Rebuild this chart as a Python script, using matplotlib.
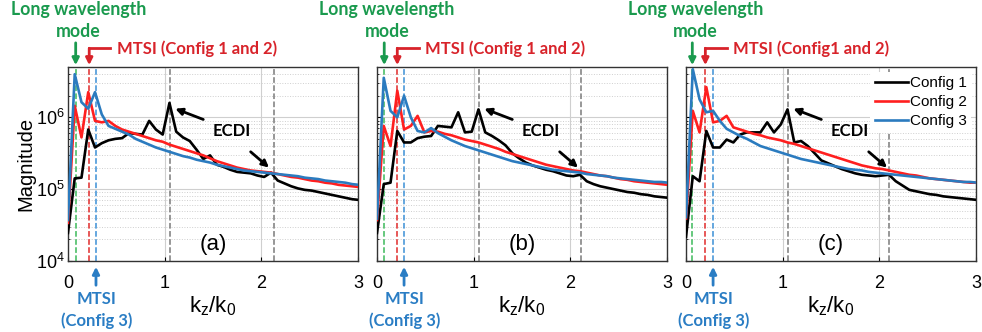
import matplotlib
matplotlib.use('Agg')
import matplotlib.pyplot as plt
import numpy as np

plt.rcParams['font.family'] = ['Liberation Sans', 'DejaVu Sans']
plt.rcParams['mathtext.fontset'] = 'custom'
plt.rcParams['mathtext.rm'] = 'Liberation Sans'
plt.rcParams['mathtext.it'] = 'Liberation Sans'

# wavenumber grid k_z/k_0
k = np.arange(44) * 0.07

# log10 of the magnitude
a_cfg1 = [4.39, 5.15, 5.16, 5.83, 5.58, 5.64, 5.68, 5.70, 5.71, 5.78, 5.77, 5.76, 5.95, 5.83, 5.76,
          6.20, 5.80, 5.72, 5.67, 5.55, 5.42, 5.47, 5.34, 5.31, 5.27, 5.24, 5.23, 5.22, 5.19, 5.17,
          5.23, 5.12, 5.08, 5.04, 5.01, 4.99, 4.98, 4.96, 4.94, 4.92, 4.90, 4.88, 4.86, 4.85]
a_cfg2 = [4.53, 6.16, 5.72, 6.35, 5.95, 5.93, 5.95, 5.88, 5.83, 5.80, 5.77, 5.74, 5.71, 5.68, 5.66,
          5.62, 5.59, 5.56, 5.53, 5.50, 5.47, 5.43, 5.39, 5.36, 5.33, 5.30, 5.28, 5.26, 5.25, 5.24,
          5.23, 5.21, 5.19, 5.17, 5.16, 5.14, 5.12, 5.11, 5.09, 5.08, 5.06, 5.05, 5.04, 5.03]
a_cfg3 = [4.57, 6.60, 6.21, 6.12, 6.35, 6.04, 5.88, 5.84, 5.80, 5.76, 5.70, 5.66, 5.62, 5.58, 5.55,
          5.52, 5.49, 5.46, 5.44, 5.41, 5.39, 5.37, 5.34, 5.32, 5.30, 5.28, 5.26, 5.25, 5.24, 5.23,
          5.22, 5.21, 5.20, 5.19, 5.18, 5.16, 5.15, 5.14, 5.12, 5.11, 5.10, 5.09, 5.07, 5.06]

b_cfg1 = [4.39, 5.07, 5.09, 5.81, 5.65, 5.65, 5.71, 5.73, 5.74, 5.88, 5.87, 5.86, 6.07, 5.79, 5.80,
          6.11, 5.79, 5.74, 5.68, 5.61, 5.50, 5.43, 5.37, 5.33, 5.30, 5.27, 5.25, 5.22, 5.19, 5.18,
          5.20, 5.11, 5.07, 5.04, 5.02, 5.00, 4.98, 4.96, 4.95, 4.93, 4.92, 4.90, 4.89, 4.88]
b_cfg2 = [4.57, 5.88, 5.60, 6.37, 5.83, 5.88, 6.02, 5.79, 5.81, 5.80, 5.77, 5.75, 5.72, 5.69, 5.67,
          5.65, 5.62, 5.59, 5.56, 5.52, 5.49, 5.46, 5.43, 5.40, 5.37, 5.34, 5.32, 5.30, 5.28, 5.26,
          5.25, 5.23, 5.21, 5.19, 5.18, 5.16, 5.14, 5.13, 5.11, 5.10, 5.09, 5.08, 5.07, 5.06]
b_cfg3 = [4.59, 6.55, 6.09, 6.00, 6.30, 6.00, 5.81, 5.79, 5.85, 5.78, 5.73, 5.68, 5.64, 5.60, 5.57,
          5.54, 5.51, 5.48, 5.45, 5.42, 5.39, 5.37, 5.35, 5.33, 5.31, 5.29, 5.27, 5.26, 5.25, 5.24,
          5.23, 5.21, 5.20, 5.19, 5.18, 5.16, 5.15, 5.14, 5.13, 5.12, 5.11, 5.10, 5.10, 5.09]

c_cfg1 = [4.34, 5.18, 5.11, 5.81, 5.58, 5.58, 5.69, 5.65, 5.76, 5.79, 5.79, 5.79, 5.93, 5.79, 5.90,
          6.11, 5.65, 5.67, 5.60, 5.50, 5.40, 5.36, 5.32, 5.28, 5.25, 5.22, 5.20, 5.19, 5.18, 5.19,
          5.20, 5.11, 5.05, 4.99, 4.97, 4.95, 4.93, 4.92, 4.90, 4.89, 4.88, 4.87, 4.86, 4.85]
c_cfg2 = [4.59, 6.09, 5.79, 6.42, 5.93, 5.95, 6.02, 5.86, 5.83, 5.80, 5.77, 5.75, 5.72, 5.70, 5.68,
          5.65, 5.63, 5.60, 5.57, 5.54, 5.51, 5.48, 5.45, 5.42, 5.39, 5.36, 5.33, 5.31, 5.29, 5.28,
          5.26, 5.24, 5.22, 5.20, 5.19, 5.17, 5.15, 5.14, 5.13, 5.12, 5.11, 5.10, 5.09, 5.09]
c_cfg3 = [4.61, 6.67, 6.25, 6.07, 6.09, 5.95, 5.84, 5.79, 5.74, 5.70, 5.65, 5.60, 5.57, 5.54, 5.51,
          5.48, 5.45, 5.42, 5.40, 5.38, 5.36, 5.34, 5.32, 5.30, 5.28, 5.27, 5.26, 5.24, 5.23, 5.22,
          5.21, 5.20, 5.19, 5.18, 5.17, 5.16, 5.15, 5.14, 5.13, 5.12, 5.11, 5.10, 5.10, 5.09]

# marker lines (k_z/k_0) per panel: long wavelength, MTSI 1&2, MTSI 3, ECDI
green_k = [0.08, 0.075, 0.065]
red_k = [0.22, 0.21, 0.20]
blue_k = [0.29, 0.28, 0.28]
ecdi_k = [[1.055, 2.13], [1.055, 2.11], [1.05, 2.10]]
red_labels = ['MTSI (Config 1 and 2)', 'MTSI (Config 1 and 2)', 'MTSI (Config1 and 2)']
letters = ['(a)', '(b)', '(c)']
series = [(a_cfg1, a_cfg2, a_cfg3), (b_cfg1, b_cfg2, b_cfg3), (c_cfg1, c_cfg2, c_cfg3)]
names = ['Config 1', 'Config 2', 'Config 3']
colors = ['black', '#ff1f1f', '#2b7bbf']

GREEN = '#1a9a4e'
RED = '#d8232a'
BLUE = '#2a7dc4'
BOLD = dict(family=['Lato', 'DejaVu Sans'], fontweight='bold', fontsize=12)

fig = plt.figure(figsize=(9.82, 3.32), dpi=100)
lefts = [0.0692, 0.3839, 0.6986]

for p in range(3):
    ax = fig.add_axes([lefts[p], 0.2139, 0.2953, 0.584])
    for vals, name, col in zip(series[p], names, colors):
        ax.plot(k, 10 ** np.array(vals), color=col, lw=1.9, label=name, zorder=3)

    ax.set_yscale('log')
    ax.set_xlim(0, 3)
    ax.set_ylim(1e4, 5e6)
    ax.set_xticks([0, 1, 2, 3])
    ax.grid(True, which='major', color='#cfcfcf', lw=0.8)
    ax.grid(True, which='minor', axis='y', color='#cfcfcf', lw=0.7, ls=':')
    ax.tick_params(which='both', direction='in', labelsize=13, length=3)
    ax.tick_params(which='minor', length=1.5)
    ax.tick_params(axis='x', pad=10)
    ax.tick_params(axis='y', pad=2)
    for s in ax.spines.values():
        s.set_color('#333333')
        s.set_linewidth(1.0)
    if p == 0:
        ax.set_ylabel('Magnitude', fontsize=14.5, labelpad=1)
    else:
        ax.tick_params(axis='y', which='both', labelleft=False)
    ax.set_xlabel(r'$\mathregular{k_z/k_0}$', fontsize=16, labelpad=2)

    # dashed marker lines
    ax.axvline(green_k[p], color='#3cb95a', ls='--', lw=1.1, zorder=2)
    ax.axvline(red_k[p], color='#e02a2a', ls='--', lw=1.1, zorder=2)
    ax.axvline(blue_k[p], color='#3b8fd6', ls='--', lw=1.1, zorder=2)
    for e in ecdi_k[p]:
        ax.axvline(e, color='#7a7a7a', ls='--', lw=1.1, zorder=2)

    tr = ax.get_xaxis_transform()
    # long wavelength mode
    ax.text(green_k[p] + 0.03, 1.24, 'Long wavelength\nmode', transform=tr, ha='center',
            va='center', color=GREEN, linespacing=1.35,
            **dict(BOLD, fontsize=12.8))
    ax.annotate('', xy=(green_k[p], 1.01), xytext=(green_k[p], 1.125), xycoords=tr,
                textcoords=tr, arrowprops=dict(arrowstyle='-|>', color=GREEN, lw=2,
                                               mutation_scale=10, shrinkA=0, shrinkB=0))
    # MTSI config 1 and 2
    ax.plot([red_k[p], red_k[p] + 0.22], [1.097, 1.097], transform=tr, color=RED, lw=2,
            clip_on=False)
    ax.annotate('', xy=(red_k[p], 1.01), xytext=(red_k[p], 1.097), xycoords=tr,
                textcoords=tr, arrowprops=dict(arrowstyle='-|>', color=RED, lw=2,
                                               mutation_scale=10, shrinkA=0, shrinkB=0))
    ax.text(red_k[p] + 0.29, 1.097, red_labels[p], transform=tr, ha='left', va='center',
            color=RED, **BOLD)
    # MTSI config 3
    ax.annotate('', xy=(blue_k[p], -0.03), xytext=(blue_k[p], -0.125), xycoords=tr,
                textcoords=tr, arrowprops=dict(arrowstyle='-|>', color=BLUE, lw=2,
                                               mutation_scale=10, shrinkA=0, shrinkB=0))
    ax.text(blue_k[p] + 0.01, -0.255, 'MTSI\n(Config 3)', transform=tr, ha='center',
            va='center', color=BLUE, linespacing=1.4, **BOLD)
    # ECDI
    ax.text(1.69, 10 ** 5.81, 'ECDI', ha='center', va='center', color='black', zorder=5,
            **BOLD)
    ax.annotate('', xy=(1.11, 10 ** 6.12), xytext=(1.40, 10 ** 5.97),
                arrowprops=dict(arrowstyle='-|>', color='black', lw=2, mutation_scale=10,
                                shrinkA=0, shrinkB=0))
    ax.annotate('', xy=(2.08, 10 ** 5.30), xytext=(1.89, 10 ** 5.52),
                arrowprops=dict(arrowstyle='-|>', color='black', lw=2, mutation_scale=10,
                                shrinkA=0, shrinkB=0))
    ax.text(0.5, 0.085, letters[p], transform=ax.transAxes, ha='center', va='center',
            fontsize=16)

    if p == 2:
        leg = ax.legend(loc='upper right', fontsize=11, frameon=True, handlelength=2.2,
                        handletextpad=0.1, labelspacing=0.32, borderaxespad=0.3,
                        borderpad=0.3)
        leg.get_frame().set_edgecolor('none')
        leg.get_frame().set_facecolor('white')
        leg.get_frame().set_alpha(1)

fig.savefig('out.png', dpi=100)
